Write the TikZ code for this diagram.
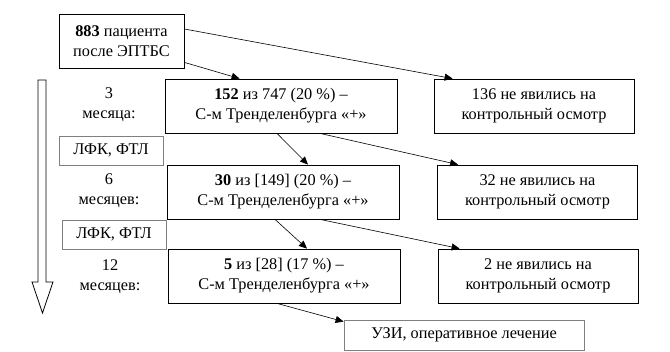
\documentclass[tikz,border=0pt]{standalone}
\usepackage{fontspec}
\setmainfont{Liberation Serif}
\usetikzlibrary{arrows.meta,calc,positioning}

\tikzset{
  box/.style={draw,thick,align=center,minimum height=54pt,inner sep=2pt,
    font=\fontsize{16.3}{20}\selectfont},
  graybox/.style={draw=black!50,thick,align=center,inner sep=2pt,
    font=\fontsize{16.3}{20}\selectfont},
  term/.style={align=center,font=\fontsize{16.3}{20}\selectfont},
  flow/.style={-{Triangle[length=8pt,width=7pt]},line width=0.6pt}
}

\begin{document}
\begin{tikzpicture}[x=1pt,y=-1pt]
\useasboundingbox (0,0) rectangle (670,352);

% --- time axis ---
\draw[thick,fill=white] (38,80) -- (46,80) -- (46,282) -- (53,282) -- (42.5,313)
  -- (32,282) -- (38,282) -- cycle;

% --- start ---
\node[box,minimum width=125pt] (start) at (121.5,41)
  {\textbf{883} пациента\\после ЭПТБС};

% --- follow-up rows ---
\foreach \m/\x/\y/\mx/\what/\miss in {
  3/281/106/534/{\textbf{152} из 747 (20 \%) –}/136,
  6/283/192/537.5/{\textbf{30} из [149] (20 \%) –}/32,
  12/284/276/538/{\textbf{5} из [28] (17 \%) –}/2}
{
  \node[box,minimum width=232pt] (m\m) at (\x,\y)
    {\what\\С-м Тренделенбурга «+»};
  \node[box,minimum width=200pt] (miss\m) at (\mx,\y)
    {\miss{} не явились на\\контрольный осмотр};
}

\node[term] (t3) at (109,105) {3\\месяца:};
\node[term] (t6) at (109,191) {6\\месяцев:};
\node[term] (t12) at (110,277) {12\\месяцев:};

\node[graybox,minimum width=104pt,minimum height=29pt] (lfk1) at (111,150.5) {ЛФК, ФТЛ};
\node[graybox,minimum width=104pt,minimum height=29pt] (lfk2) at (114,234.5) {ЛФК, ФТЛ};
\node[graybox,minimum width=240pt,minimum height=30pt] (uzi) at (464,335)
  {УЗИ, оперативное лечение};

% --- connectors ---
\draw[flow] ($(start.south east)+(0,-6)$) -- ($(m3.north west)+(75,0)$);
\draw[flow] ($(start.east)+(0,-12)$) -- ($(miss3.north west)+(19,0)$);
\draw[flow] ($(m3.south)+(-4,0)$) -- ($(m6.north)+(25,0)$);
\draw[flow] ($(m3.south)+(39,0)$) -- ($(miss6.north west)+(21,0)$);
\draw[flow] ($(m6.south)+(-8,0)$) -- ($(m12.north)+(23,0)$);
\draw[flow] ($(m6.south)+(37,0)$) -- ($(miss12.north west)+(22,0)$);
\draw[flow] ($(m12.south)+(-7,0)$) -- ($(uzi.north west)+(0,2)$);

\end{tikzpicture}
\end{document}
